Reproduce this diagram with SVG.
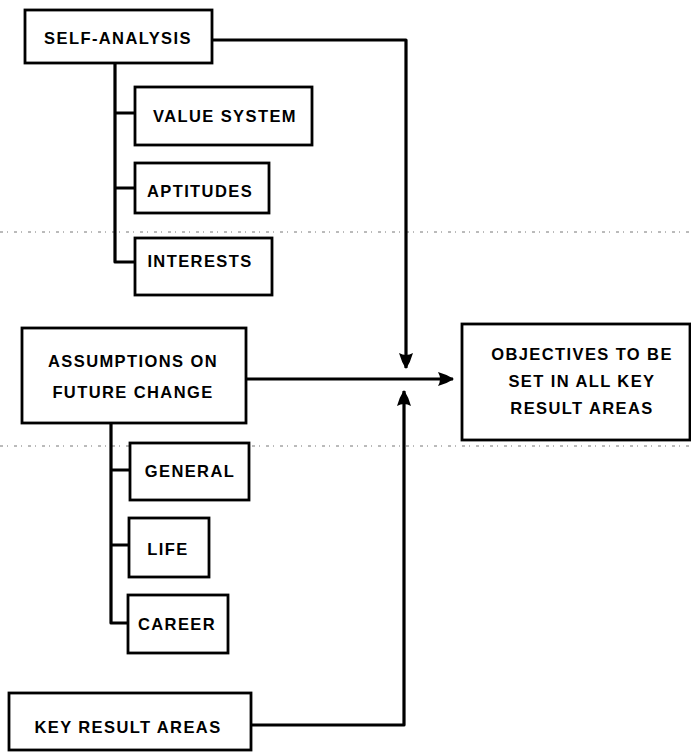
<svg xmlns="http://www.w3.org/2000/svg" width="691" height="753" viewBox="0 0 691 753">
<style>
.box{fill:#fff;stroke:#000;stroke-width:2.8}
.t{font-family:"Liberation Sans",Arial,sans-serif;font-weight:bold;font-size:16.5px;letter-spacing:1.4px;fill:#000;text-anchor:middle}
.c{fill:none;stroke:#000;stroke-width:3.2;stroke-linejoin:round}
.fold{fill:none;stroke:#777;stroke-width:1;stroke-dasharray:3 4 1 6}
</style>
<defs>
<marker id="ah" viewBox="0 0 16 14" refX="15" refY="7" markerWidth="16" markerHeight="14" markerUnits="userSpaceOnUse" orient="auto">
<path d="M0,0 Q9,2.5 16,7 Q9,11.5 0,14 Q4,7 0,0 z" fill="#000"/>
</marker>
</defs>
<g id="fold-lines">
<path class="fold" d="M0,232 H691"/>
<path class="fold" d="M0,446 H691"/>
</g>
<g id="connectors">
<path class="c" d="M115,63 V262 H135 M115,113 H135 M115,188 H135"/>
<path class="c" d="M111,423 V623 H128 M111,470 H130 M111,545 H129"/>
<path class="c" d="M212,40 H406 V368" marker-end="url(#ah)"/>
<path class="c" d="M246,379 H453" marker-end="url(#ah)"/>
<path class="c" d="M251,725 H404 V391" marker-end="url(#ah)"/>
</g>
<g id="self-analysis">
<rect class="box" x="25" y="10" width="187" height="53"/>
<text class="t" x="118" y="44">SELF-ANALYSIS</text>
</g>
<g id="value-system">
<rect class="box" x="135" y="87" width="177" height="58"/>
<text class="t" x="225" y="122">VALUE SYSTEM</text>
</g>
<g id="aptitudes">
<rect class="box" x="135" y="163" width="134" height="50"/>
<text class="t" x="200" y="197">APTITUDES</text>
</g>
<g id="interests">
<rect class="box" x="135" y="238" width="137" height="57"/>
<text class="t" x="200" y="267">INTERESTS</text>
</g>
<g id="assumptions">
<rect class="box" x="22" y="328" width="224" height="95"/>
<text class="t" x="133" y="367">ASSUMPTIONS ON</text>
<text class="t" x="133" y="398">FUTURE CHANGE</text>
</g>
<g id="objectives">
<rect class="box" x="462" y="324" width="228" height="116"/>
<text class="t" x="582" y="360">OBJECTIVES TO BE</text>
<text class="t" x="582" y="387">SET IN ALL KEY</text>
<text class="t" x="582" y="414">RESULT AREAS</text>
</g>
<g id="general">
<rect class="box" x="130" y="443" width="119" height="57"/>
<text class="t" x="190" y="477">GENERAL</text>
</g>
<g id="life">
<rect class="box" x="129" y="518" width="80" height="59"/>
<text class="t" x="168" y="555">LIFE</text>
</g>
<g id="career">
<rect class="box" x="128" y="595" width="100" height="58"/>
<text class="t" x="177" y="630">CAREER</text>
</g>
<g id="key-result-areas">
<rect class="box" x="9" y="693" width="242" height="57"/>
<text class="t" x="128" y="733">KEY RESULT AREAS</text>
</g>
</svg>
